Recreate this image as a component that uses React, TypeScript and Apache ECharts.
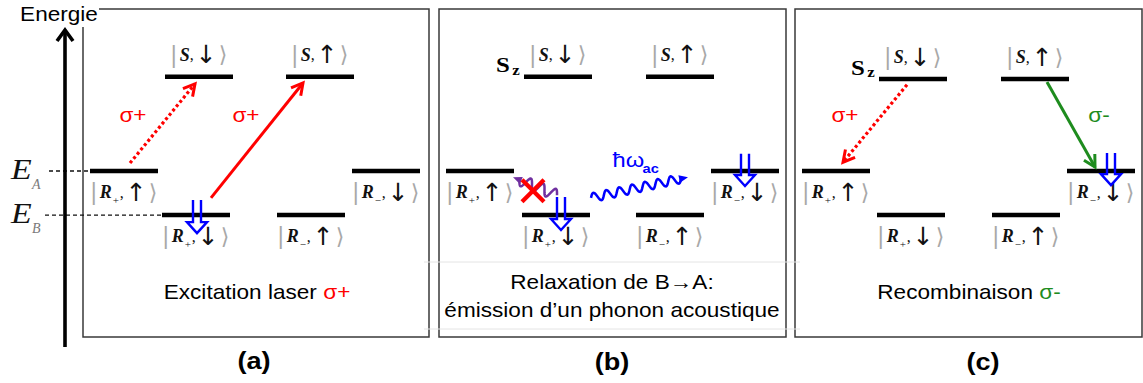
import React, { useEffect, useRef } from "react";
import * as echarts from "echarts";

// ---------------- data ----------------
const panelTags = ["(a)", "(b)", "(c)"];
const captionTexts = [
  "Excitation laser ",
  "Relaxation de B\u2192A:\n\u00e9mission d\u2019un phonon acoustique",
  "Recombinaison ",
];
const captionSigmas = ["\u03c3+", "", "\u03c3-"];

// states: |S,↓>, |S,↑>, |R+,↑>, |R+,↓>, |R-,↑>, |R-,↓>
const stateLetters = ["S", "S", "R", "R", "R", "R"];
const stateSubscripts = ["", "", "+", "+", "\u2212", "\u2212"];
const stateSpins = ["\u2193", "\u2191", "\u2191", "\u2193", "\u2191", "\u2193"];

// level energies (E_B = 0, E_A = 1)
const levelEnergiesA = [3.14, 3.14, 1, 0, 0, 1];
const levelEnergiesB = [3.14, 3.14, 1, 0, 0, 1];
const levelEnergiesC = [3.09, 3.09, 1, 0, 0, 1];
// horizontal slot of every level inside its panel
const levelColumnsA = [116, 237, 41, 113, 228, 303];
const levelColumnsB = [119, 241, 41, 117, 231, 306];
const levelColumnsC = [118, 240, 41, 116, 231, 306];

// reference energies drawn on the left of panel (a)
const referenceNames = ["A", "B"];
const referenceEnergies = [1, 0];
const referenceStates = [2, 3];

// optical transitions [x1, E1, x2, E2, dotted]
const transitionsA = [
  [47, 1.18, 112, 2.98, 1],
  [128, 0.39, 220, 3.0, 0],
];
const transitionsC = [
  [112, 2.96, 48, 1.2, 1],
  [252, 3.02, 300, 1.09, 0],
];
const transitionColorsA = ["#ff0000", "#ff0000"];
const transitionColorsC = ["#ff0000", "#1e8c1e"];
const transitionLabelsA = ["\u03c3+", "\u03c3+"];
const transitionLabelsC = ["\u03c3+", "\u03c3-"];
const transitionLabelPosA = [
  [50, 2.27],
  [163, 2.27],
];
const transitionLabelPosC = [
  [50, 2.27],
  [304, 2.27],
];

// hole spin markers [x, E top, E tip]
const spinMarkersA = [[114, 0.34, -0.41]];
const spinMarkersB = [
  [122, 0.41, -0.34],
  [306, 1.39, 0.66],
];
const spinMarkersC = [[316, 1.41, 0.68]];

// phonons in panel (b) [x1, E1, x2, E2, blocked]
const phononsB = [
  [74, 0.86, 118, 0.45, 1],
  [152, 0.39, 249, 0.86, 0],
];
const phononColors = ["#7030a0", "#0000ff"];
const blockMarksB = [[94, 0.55]];

// ---------------- layout / style ----------------
const GRID_LEFTS = [83, 439, 795];
const GRID_WIDTHS = [346, 347, 347];
const GRID_TOP = 9;
const GRID_HEIGHT = 328;
const E_MIN = -2.77;
const E_MAX = 4.68;
const LEVEL_W = 68;
const LEVEL_H = 4.5;
const SX = 1.13;
const SANS = "Liberation Sans, Arial, sans-serif";
const SERIF = "Liberation Serif, Times New Roman, serif";

const labelRich: any = {
  bar: { fontFamily: SANS, fontSize: 23, fill: "#a8a8a8", lineHeight: 26, padding: [0, 3, 0, 0] },
  it: { fontFamily: SERIF, fontStyle: "italic", fontWeight: "bold", fontSize: 18, fill: "#111", lineHeight: 26 },
  sub: { fontFamily: SERIF, fontSize: 11, fill: "#111", verticalAlign: "bottom", lineHeight: 17, padding: [0, 1, 0, 1] },
  p: { fontFamily: SERIF, fontSize: 16, fill: "#111", lineHeight: 26, padding: [0, 2, 0, 0] },
  ar: { fontFamily: "DejaVu Sans", fontSize: 25, fontWeight: "normal", fill: "#111", lineHeight: 26 },
  br: { fontFamily: "DejaVu Sans", fontSize: 22, fill: "#a8a8a8", lineHeight: 26, padding: [0, 0, 0, 2] },
};

function stateText(i: number) {
  const sub = stateSubscripts[i] ? `{sub|${stateSubscripts[i]}}` : "";
  return `{bar||}{it|${stateLetters[i]}}${sub}{p|,}{ar|${stateSpins[i]}}{br|\u27e9}`;
}

function renderLevel(params: any, api: any) {
  const i = api.value(2);
  const c = api.coord([api.value(0), api.value(1)]);
  const above = stateLetters[i] === "S";
  return {
    type: "group",
    children: [
      {
        type: "rect",
        shape: { x: c[0] - LEVEL_W / 2, y: c[1] - LEVEL_H / 2, width: LEVEL_W, height: LEVEL_H },
        style: { fill: "#000" },
      },
      {
        type: "text",
        x: c[0],
        y: c[1] + (above ? -22 : 21),
        scaleX: 1.0,
        style: { text: stateText(i), rich: labelRich, align: "center", verticalAlign: "middle" },
      },
    ],
  };
}

function arrowHead(tip: number[], from: number[], len: number, spread: number) {
  const ang = Math.atan2(tip[1] - from[1], tip[0] - from[0]);
  return [
    [tip[0] - len * Math.cos(ang - spread), tip[1] - len * Math.sin(ang - spread)],
    tip,
    [tip[0] - len * Math.cos(ang + spread), tip[1] - len * Math.sin(ang + spread)],
  ];
}

function makeTransitionRender(colors: string[], labels: string[], labelPos: number[][]) {
  return (params: any, api: any) => {
    const k = params.dataIndex;
    const p1 = api.coord([api.value(0), api.value(1)]);
    const p2 = api.coord([api.value(2), api.value(3)]);
    const dotted = api.value(4) === 1;
    const color = colors[k];
    const lp = api.coord(labelPos[k]);
    return {
      type: "group",
      children: [
        {
          type: "line",
          shape: { x1: p1[0], y1: p1[1], x2: p2[0], y2: p2[1] },
          style: { stroke: color, lineWidth: dotted ? 3.2 : 3, lineDash: dotted ? [3, 2.6] : null },
        },
        {
          type: "polyline",
          shape: { points: arrowHead(p2, p1, 13, 0.5) },
          style: { stroke: color, lineWidth: 3, fill: "none" },
        },
        {
          type: "text",
          x: lp[0],
          y: lp[1],
          scaleX: SX,
          style: {
            text: labels[k],
            fill: color,
            fontSize: 20,
            fontFamily: SANS,
            align: "center",
            verticalAlign: "middle",
          },
        },
      ],
    };
  };
}

function renderSpin(params: any, api: any) {
  const top = api.coord([api.value(0), api.value(1)]);
  const tip = api.coord([api.value(0), api.value(2)]);
  const x = top[0];
  const base = tip[1] - 11;
  const pts = [
    [x - 4, top[1]],
    [x - 4, base],
    [x - 10, base],
    [x, tip[1]],
    [x + 10, base],
    [x + 4, base],
    [x + 4, top[1]],
  ];
  return { type: "polyline", shape: { points: pts }, style: { stroke: "#0000ff", lineWidth: 2.4, fill: "none" } };
}

function renderPhonon(params: any, api: any) {
  const k = params.dataIndex;
  const p1 = api.coord([api.value(0), api.value(1)]);
  const p2 = api.coord([api.value(2), api.value(3)]);
  const blocked = api.value(4) === 1;
  const color = phononColors[k];
  const dx = p2[0] - p1[0];
  const dy = p2[1] - p1[1];
  const len = Math.hypot(dx, dy);
  const ux = dx / len;
  const uy = dy / len;
  const nx = -uy;
  const ny = ux;
  const periods = blocked ? 3 : 7;
  const amp = blocked ? 5.5 : 4.5;
  const head = 7;
  const s0 = blocked ? head : 0;
  const s1 = blocked ? len : len - head;
  const pts: number[][] = [];
  const N = 140;
  for (let j = 0; j <= N; j++) {
    const t = j / N;
    const s = s0 + t * (s1 - s0);
    const w = amp * Math.sin(2 * Math.PI * periods * t) * (blocked ? 1 : -1);
    pts.push([p1[0] + ux * s + nx * w, p1[1] + uy * s + ny * w]);
  }
  const tip = blocked ? p1 : p2;
  const dir = blocked ? -1 : 1;
  const bx = tip[0] - dir * ux * 9;
  const by = tip[1] - dir * uy * 9;
  const children: any[] = [
    { type: "polyline", shape: { points: pts }, style: { stroke: color, lineWidth: 2.5, fill: "none" } },
    {
      type: "polygon",
      shape: {
        points: [
          tip,
          [bx + nx * 3.8, by + ny * 3.8],
          [bx - nx * 3.8, by - ny * 3.8],
        ],
      },
      style: { fill: color },
    },
  ];
  if (!blocked) {
    const mx = (p1[0] + p2[0]) / 2;
    const my = (p1[1] + p2[1]) / 2;
    children.push(
      {
        type: "text",
        x: mx - 27,
        y: my - 28,
        scaleX: SX,
        style: { text: "\u0127\u03c9", fill: color, fontSize: 21, fontFamily: SANS, align: "left", verticalAlign: "middle" },
      },
      {
        type: "text",
        x: mx + 3,
        y: my - 19,
        scaleX: SX,
        style: { text: "ac", fill: color, fontSize: 13, fontWeight: "bold", fontFamily: SANS, align: "left", verticalAlign: "middle" },
      }
    );
  }
  return { type: "group", children };
}

function renderBlock(params: any, api: any) {
  const c = api.coord([api.value(0), api.value(1)]);
  const h = 11;
  const st = { stroke: "#ff0000", lineWidth: 4.2 };
  return {
    type: "group",
    children: [
      { type: "line", shape: { x1: c[0] - h, y1: c[1] - h, x2: c[0] + h, y2: c[1] + h }, style: st },
      { type: "line", shape: { x1: c[0] + h, y1: c[1] - h, x2: c[0] - h, y2: c[1] + h }, style: st },
    ],
  };
}

function renderReference(params: any, api: any) {
  const k = params.dataIndex;
  const E = api.value(1);
  const origin = api.coord([0, E]);
  const levelLeft = api.coord([levelColumnsA[referenceStates[k]] - LEVEL_W / 2, E]);
  const y = origin[1];
  return {
    type: "group",
    children: [
      {
        type: "line",
        shape: { x1: origin[0] - (k === 0 ? 34 : 38), y1: y, x2: levelLeft[0], y2: y },
        style: { stroke: "#111", lineWidth: 1.3, lineDash: [4, 3] },
      },
      {
        type: "text",
        x: origin[0] - 72,
        y: y - 2,
        scaleX: SX,
        style: { text: "E", fill: "#111", fontSize: 30, fontStyle: "italic", fontFamily: SERIF, align: "left", verticalAlign: "middle" },
      },
      {
        type: "text",
        x: origin[0] - 51,
        y: y + 13,
        style: {
          text: referenceNames[k],
          fill: "#7a7a7a",
          fontSize: 14,
          fontStyle: "italic",
          fontFamily: SERIF,
          align: "left",
          verticalAlign: "middle",
        },
      },
    ],
  };
}

function renderSz(params: any, api: any) {
  const left = api.coord([api.value(0) - LEVEL_W / 2, api.value(1)]);
  return {
    type: "group",
    children: [
      {
        type: "text",
        x: left[0] - 21,
        y: left[1] - 12,
        scaleX: SX,
        style: { text: "S", fill: "#000", fontSize: 22, fontWeight: "bold", fontFamily: SERIF, align: "center", verticalAlign: "middle" },
      },
      {
        type: "text",
        x: left[0] - 8,
        y: left[1] - 7,
        scaleX: SX,
        style: { text: "z", fill: "#000", fontSize: 15, fontWeight: "bold", fontFamily: SERIF, align: "center", verticalAlign: "middle" },
      },
    ],
  };
}

function buildOption() {
  const energies = [levelEnergiesA, levelEnergiesB, levelEnergiesC];
  const columns = [levelColumnsA, levelColumnsB, levelColumnsC];
  const series: any[] = [];
  const base = (k: number) => ({ type: "custom", xAxisIndex: k, yAxisIndex: k, clip: false, silent: true });

  for (let k = 0; k < 3; k++) {
    series.push({
      ...base(k),
      renderItem: renderLevel,
      data: energies[k].map((e, i) => [columns[k][i], e, i]),
      z: 3,
    });
  }
  series.push({ ...base(0), renderItem: renderReference, data: referenceEnergies.map((e, i) => [i, e]), z: 2 });
  series.push({
    ...base(0),
    renderItem: makeTransitionRender(transitionColorsA, transitionLabelsA, transitionLabelPosA),
    data: transitionsA,
    z: 4,
  });
  series.push({
    ...base(2),
    renderItem: makeTransitionRender(transitionColorsC, transitionLabelsC, transitionLabelPosC),
    data: transitionsC,
    z: 4,
  });
  series.push({ ...base(0), renderItem: renderSpin, data: spinMarkersA, z: 5 });
  series.push({ ...base(1), renderItem: renderSpin, data: spinMarkersB, z: 5 });
  series.push({ ...base(2), renderItem: renderSpin, data: spinMarkersC, z: 5 });
  series.push({ ...base(1), renderItem: renderPhonon, data: phononsB, z: 4 });
  series.push({ ...base(1), renderItem: renderBlock, data: blockMarksB, z: 6 });
  series.push({ ...base(1), renderItem: renderSz, data: [[levelColumnsB[0], levelEnergiesB[0]]], z: 3 });
  series.push({ ...base(2), renderItem: renderSz, data: [[levelColumnsC[0], levelEnergiesC[0]]], z: 3 });

  const captionCenters = [
    [257, 292],
    [612, 296],
    [969, 292],
  ];
  const tagCenters = [
    [254, 361],
    [612, 362],
    [983, 362],
  ];
  const sigmaColors = ["#ff0000", "#ff0000", "#1e8c1e"];

  const graphic: any[] = [
    // faint table rules behind panel (b)
    { type: "line", shape: { x1: 424, y1: 262, x2: 800, y2: 262 }, style: { stroke: "#e4e4e4", lineWidth: 1 }, z: 1 },
    { type: "line", shape: { x1: 424, y1: 329, x2: 800, y2: 329 }, style: { stroke: "#e4e4e4", lineWidth: 1 }, z: 1 },
    // energy axis
    { type: "line", shape: { x1: 65, y1: 347, x2: 65, y2: 31 }, style: { stroke: "#000", lineWidth: 3.6 }, z: 9 },
    {
      type: "polyline",
      shape: { points: [[57, 41], [65, 30], [73, 41]] },
      style: { stroke: "#000", lineWidth: 3.6, fill: "none" },
      z: 9,
    },
    { type: "rect", shape: { x: 19, y: 0, width: 80, height: 27 }, style: { fill: "#fff" }, z: 10 },
    {
      type: "text",
      x: 59,
      y: 14,
      scaleX: SX,
      style: { text: "Energie", fill: "#000", fontSize: 20, fontFamily: SANS, align: "center", verticalAlign: "middle" },
      z: 11,
    },
  ];
  for (let k = 0; k < 3; k++) {
    graphic.push({
      type: "text",
      x: captionCenters[k][0],
      y: captionCenters[k][1],
      scaleX: SX,
      style: {
        text: captionTexts[k] + (captionSigmas[k] ? `{s|${captionSigmas[k]}}` : ""),
        fill: "#000",
        fontSize: 20,
        fontFamily: SANS,
        lineHeight: 28,
        align: "center",
        verticalAlign: "middle",
        rich: { s: { fill: sigmaColors[k], fontSize: 20, fontFamily: SANS, lineHeight: 28 } },
      },
      z: 11,
    });
    graphic.push({
      type: "text",
      x: tagCenters[k][0],
      y: tagCenters[k][1],
      scaleX: SX,
      style: {
        text: panelTags[k],
        fill: "#000",
        fontSize: 24,
        fontWeight: "bold",
        fontFamily: SANS,
        align: "center",
        verticalAlign: "middle",
      },
      z: 11,
    });
  }

  return {
    animation: false,
    backgroundColor: "#fff",
    grid: [0, 1, 2].map((k) => ({
      left: GRID_LEFTS[k],
      top: GRID_TOP,
      width: GRID_WIDTHS[k],
      height: GRID_HEIGHT,
      show: true,
      borderColor: "#3a3a3a",
      borderWidth: 1.5,
      backgroundColor: "transparent",
    })),
    xAxis: [0, 1, 2].map((k) => ({ type: "value", gridIndex: k, min: 0, max: GRID_WIDTHS[k], show: false })),
    yAxis: [0, 1, 2].map((k) => ({ type: "value", gridIndex: k, min: E_MIN, max: E_MAX, show: false })),
    series,
    graphic,
  };
}

export default function App() {
  const ref = useRef<HTMLDivElement>(null);
  useEffect(() => {
    if (!ref.current) return;
    const chart = echarts.init(ref.current, undefined, { renderer: "svg" });
    chart.setOption(buildOption() as any);
    return () => chart.dispose();
  }, []);
  return (
    <div
      ref={ref}
      style={{ position: "absolute", left: 0, top: 0, width: 1143, height: 383, background: "#fff" }}
    />
  );
}
